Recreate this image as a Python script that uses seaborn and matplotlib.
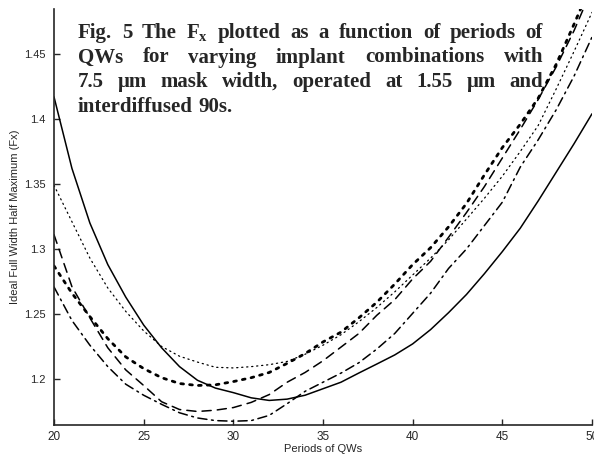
import numpy as np
import pandas as pd
import seaborn as sns
import matplotlib.pyplot as plt

# dados (periodos de QWs x Fx)
periodos = [20, 21, 22, 23, 24, 25, 26, 27, 28, 29, 30, 31, 32, 33, 34, 35,
            36, 37, 38, 39, 40, 41, 42, 43, 44, 45, 46, 47, 48, 49, 50]

fx_solido = [1.417, 1.362, 1.320, 1.288, 1.263, 1.2415, 1.224, 1.2095, 1.199, 1.193,
             1.1895, 1.1855, 1.1835, 1.1845, 1.1875, 1.1925, 1.1975, 1.2046, 1.2115,
             1.2185, 1.227, 1.238, 1.251, 1.265, 1.281, 1.298, 1.316, 1.337, 1.359,
             1.381, 1.404]
fx_pontilhado = [1.349, 1.321, 1.293, 1.270, 1.252, 1.237, 1.225, 1.2175, 1.213, 1.209,
                 1.2085, 1.2095, 1.211, 1.2135, 1.219, 1.226, 1.234, 1.244, 1.255,
                 1.267, 1.280, 1.293, 1.307, 1.323, 1.339, 1.356, 1.375, 1.395, 1.423,
                 1.452, 1.482]
fx_pontos = [1.287, 1.266, 1.248, 1.231, 1.217, 1.208, 1.201, 1.1965, 1.195, 1.1955,
             1.198, 1.201, 1.205, 1.212, 1.2195, 1.2285, 1.236, 1.247, 1.259, 1.273,
             1.288, 1.301, 1.317, 1.335, 1.357, 1.378, 1.396, 1.416, 1.442, 1.473, 1.505]
fx_tracejado = [1.311, 1.271, 1.247, 1.224, 1.207, 1.195, 1.1825, 1.1765, 1.175, 1.176,
                1.178, 1.182, 1.188, 1.1975, 1.205, 1.214, 1.2245, 1.235, 1.249, 1.261,
                1.277, 1.2905, 1.309, 1.328, 1.348, 1.370, 1.392, 1.415, 1.440, 1.468,
                1.500]
fx_traco_ponto = [1.2708, 1.245, 1.226, 1.2095, 1.196, 1.1875, 1.1805, 1.174, 1.170,
                  1.168, 1.1675, 1.168, 1.172, 1.181, 1.1905, 1.1975, 1.2045, 1.2125,
                  1.223, 1.235, 1.2505, 1.266, 1.285, 1.300, 1.318, 1.336, 1.363,
                  1.384, 1.407, 1.433, 1.463]

yticks = [1.2, 1.25, 1.3, 1.35, 1.4, 1.45]
ytick_labels = ['1.2', '1.25', '1.3', '1.35', '1.4', '1.45']
xticks = [20, 25, 30, 35, 40, 45, 50]

legenda = [
    'Fig. 5 The $F_x$ plotted as a function of periods of',
    'QWs for varying implant combinations with',
    '7.5 \u03bcm mask width, operated at 1.55 \u03bcm and',
    'interdiffused 90s.',
]

sns.set_style('ticks')
plt.rcParams['font.family'] = ['Liberation Sans', 'DejaVu Sans']
plt.rcParams['mathtext.fontset'] = 'custom'
plt.rcParams['mathtext.it'] = 'Liberation Serif:bold'
plt.rcParams['mathtext.rm'] = 'Liberation Serif:bold'

fig = plt.figure(figsize=(5.94, 4.55), dpi=100)
ax = fig.add_axes([54 / 594, 30 / 455, 538 / 594, 416.5 / 455])

# cada curva com seu estilo de linha
estilos = [
    (fx_solido, '-', 1.1),
    (fx_pontilhado, (0, (1, 3)), 0.9),
    (fx_pontos, (0, (1, 2.2)), 2.0),
    (fx_tracejado, (0, (6, 4)), 1.1),
    (fx_traco_ponto, (0, (6, 3, 1.2, 3)), 1.1),
]
for valores, ls, lw in estilos:
    sns.lineplot(x=periodos, y=valores, ax=ax, color='black', linestyle=ls,
                 linewidth=lw, dash_capstyle='round', solid_capstyle='round')

ax.set_xlim(20, 50)
ax.set_ylim(1.1646, 1.485)
ax.set_xticks(xticks)
ax.set_xticklabels([str(t) for t in xticks])
ax.set_yticks(yticks)
ax.set_yticklabels(ytick_labels)
ax.tick_params(direction='in', length=4, width=1, labelsize=8, pad=6)
ax.tick_params(axis='x', labelsize=8.5, pad=4)
sns.despine(ax=ax)
for s in ['left', 'bottom']:
    ax.spines[s].set_linewidth(1.2)

ax.set_xlabel('Periods of QWs', fontsize=8)
ax.set_ylabel('Ideal Full Width Half Maximum (Fx)', fontsize=8)
ax.yaxis.set_label_coords(-0.063, 0.5)
ax.xaxis.set_label_coords(0.5, -0.046)

# legenda da figura, justificada palavra por palavra
r = fig.canvas.get_renderer()
x0, x1 = 78 / 594, 543 / 594
kw = dict(family='Liberation Serif', weight='bold', fontsize=15, va='baseline')
for i, linha in enumerate(legenda):
    y = 1 - (38 + i * 24.5) / 455
    palavras = linha.split(' ')
    if '$' in linha:
        palavras = ['Fig.', '5', 'The', '$F_x$'] + linha.split('$')[2].split()
    textos = [fig.text(0, y, p, **kw) for p in palavras]
    larg = [t.get_window_extent(r).width / fig.bbox.width for t in textos]
    if i < len(legenda) - 1:
        gap = (x1 - x0 - sum(larg)) / (len(palavras) - 1)
    else:
        gap = textos[0].get_window_extent(r).height * 0.25 / fig.bbox.width
    x = x0
    for t, w in zip(textos, larg):
        t.set_x(x)
        x += w + gap

plt.savefig('out.png', dpi=100)
